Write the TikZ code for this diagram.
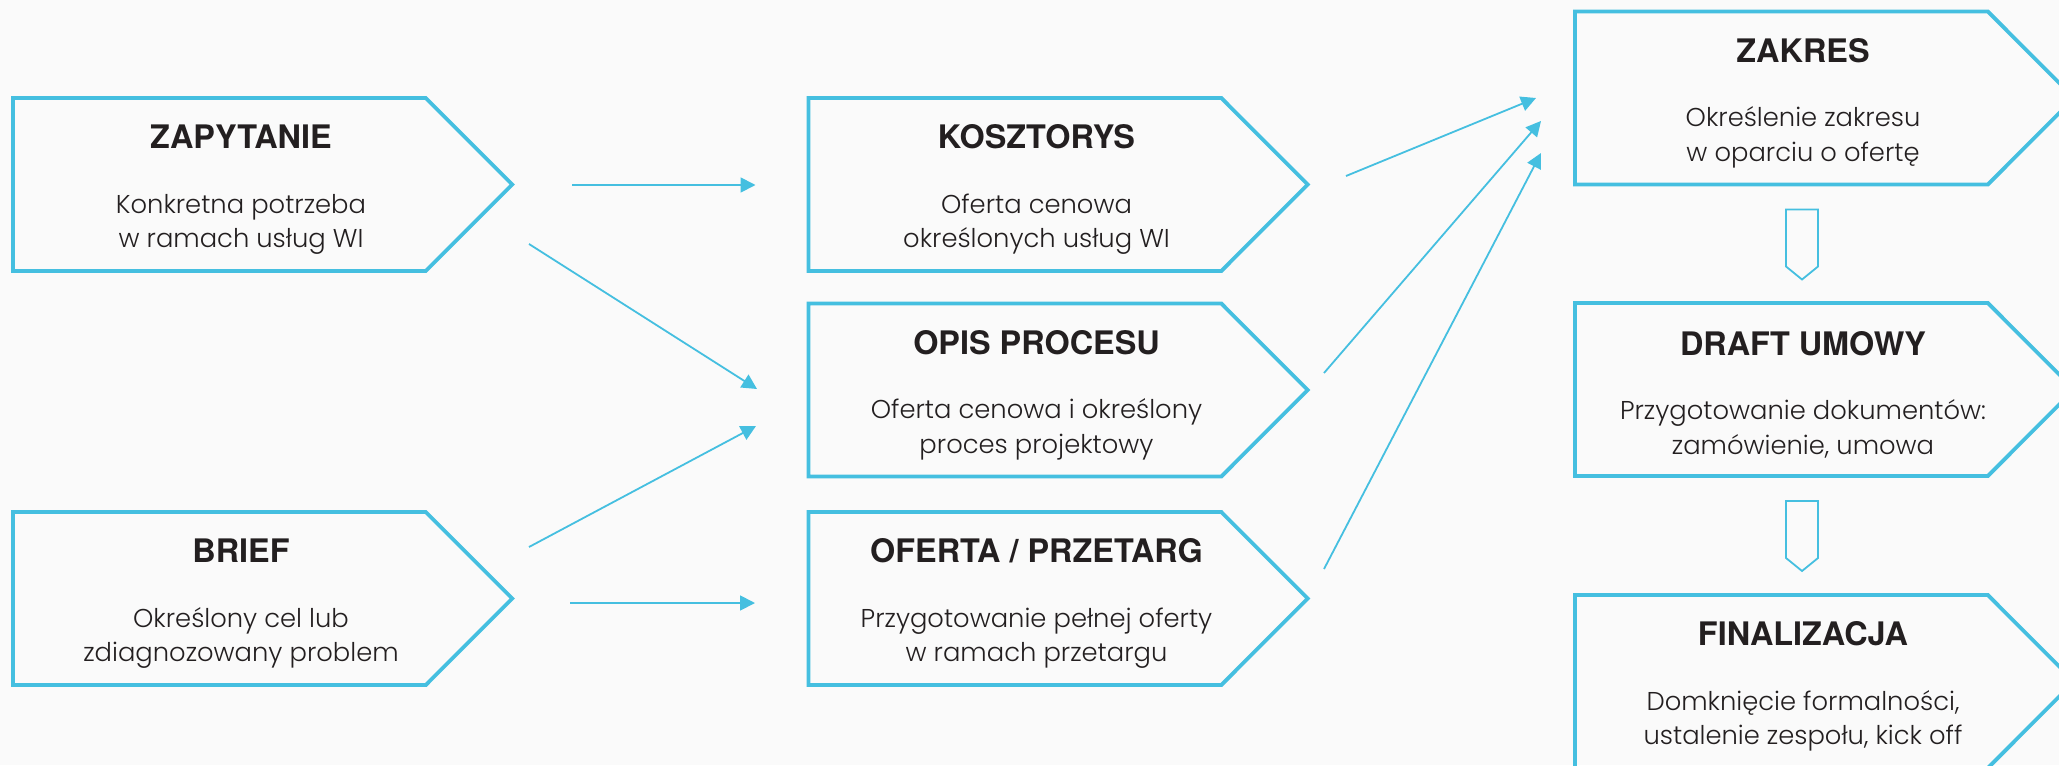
\documentclass[tikz,border=0pt]{standalone}
\usepackage{fontspec}
\usetikzlibrary{arrows.meta}
\newfontfamily\headfont{TeX Gyre Heros}
\newfontfamily\bodyfont{Poppins Light}
\definecolor{wiblue}{HTML}{45BFE0}
\definecolor{wiink}{HTML}{231F20}
\definecolor{wibg}{HTML}{FAFAFA}
\tikzset{
  stepbox/.style={minimum width=228pt, minimum height=86.5pt, outer sep=0pt,
    align=center, text=wiink, font=\bodyfont\fontsize{12.9}{17.3}\selectfont},
  chev/.style={draw=wiblue, line width=1.9pt, line join=miter},
  link/.style={draw=wiblue, line width=0.9pt, -{Triangle[length=7.5pt,width=7.5pt]}},
  flowdown/.style={draw=wiblue, line width=0.9pt, line join=miter}
}
\newcommand{\steptitle}[1]{{\headfont\bfseries\fontsize{16.2}{16}\selectfont\rule{0pt}{17pt}#1}\\[15pt]}
\begin{document}
\begin{tikzpicture}[x=0.5pt,y=-0.5pt]
\tikzstyle{every node}+=[inner sep=0pt]
\useasboundingbox (0,0) rectangle (2059,765);
\fill [wibg] (0,0) rectangle (2059,765);
% left column
\node [stepbox] (zapytanie) at (241,184.5) {\steptitle{ZAPYTANIE}Konkretna potrzeba\\w ramach usług WI};
\node [stepbox] (brief) at (241,598.5) {\steptitle{BRIEF}Określony cel lub\\zdiagnozowany problem};
% middle column
\node [stepbox] (kosztorys) at (1036.5,184.5) {\steptitle{KOSZTORYS}Oferta cenowa\\określonych usług WI};
\node [stepbox] (opis) at (1036.5,390) {\steptitle{OPIS PROCESU}Oferta cenowa i określony\\proces projektowy};
\node [stepbox] (oferta) at (1036.5,598.5) {\steptitle{OFERTA / PRZETARG}Przygotowanie pełnej oferty\\w ramach przetargu};
% right column
\node [stepbox] (zakres) at (1803,98) {\steptitle{ZAKRES}Określenie zakresu\\w oparciu o ofertę};
\node [stepbox] (draft) at (1803,389.5) {\steptitle{DRAFT UMOWY}Przygotowanie dokumentów:\\zamówienie, umowa};
\node [stepbox] (final) at (1803,681.5) {\steptitle{FINALIZACJA}Domknięcie formalności,\\ustalenie zespołu, kick off};
% chevron outlines
\foreach \n in {zapytanie,brief,kosztorys,opis,oferta,zakres,draft,final}
  \draw [chev] (\n.north west) -- ([xshift=-21.6pt]\n.north east) -- ([xshift=21.6pt]\n.east)
    -- ([xshift=-21.6pt]\n.south east) -- (\n.south west) -- cycle;
% connectors
\draw [link] ([shift={(103,0.5)}]zapytanie.east) -- ([shift={(-53,0.5)}]kosztorys.west);
\draw [link] ([shift={(60,59.5)}]zapytanie.east) -- ([shift={(-51.5,-1)}]opis.west);
\draw [link] ([shift={(60,-51.5)}]brief.east) -- ([shift={(-52.5,36)}]opis.west);
\draw [link] ([shift={(101,4.5)}]brief.east) -- ([shift={(-53.5,4.5)}]oferta.west);
\draw [link] ([shift={(81.5,-8.5)}]kosztorys.east) -- ([shift={(-39,0)}]zakres.west);
\draw [link] ([shift={(59.5,-17)}]opis.east) -- ([shift={(-34,23)}]zakres.west);
\draw [link] ([shift={(59.5,-29.5)}]oferta.east) -- ([shift={(-34,55)}]zakres.west);
% small down arrows
\foreach \a in {zakres,draft}
  \draw [flowdown] ([shift={(-17,25)}]\a.south) -- ++(0,57) -- ++(16,13) -- ++(16,-13) -- ++(0,-57) -- cycle;
\end{tikzpicture}
\end{document}
